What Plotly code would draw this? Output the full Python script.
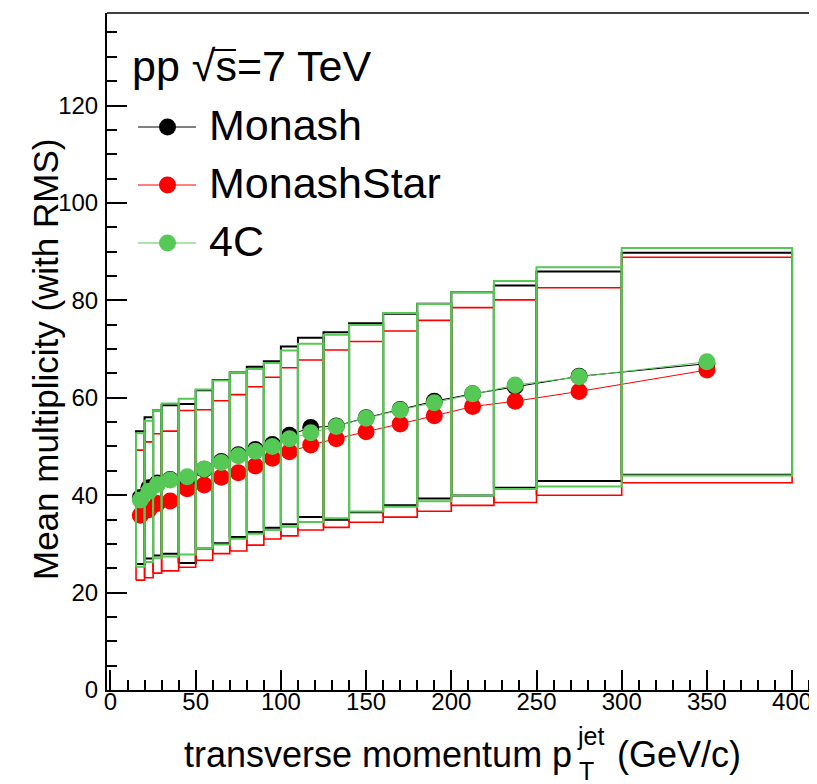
import plotly.graph_objects as go

# ---------------- data ----------------
pt_low = [15, 20, 25, 30, 40, 50, 60, 70, 80, 90, 100, 110, 125, 140, 160, 180, 200, 225, 250, 300]
pt_high = [20, 25, 30, 40, 50, 60, 70, 80, 90, 100, 110, 125, 140, 160, 180, 200, 225, 250, 300, 400]
pt_center = [17.5, 22.5, 27.5, 35, 45, 55, 65, 75, 85, 95, 105, 117.5, 132.5, 150, 170, 190, 212.5, 237.5, 275, 350]

monash_mean = [39.5, 41.5, 42.5, 43.2, 42.4, 45.3, 46.9, 48.3, 49.4, 50.4, 52.3, 53.9, 54.2, 55.9, 57.6, 59.3, 60.8, 62.3, 64.4, 67.0]
monash_rms = [13.65, 14.5, 14.9, 15.25, 16.3, 16.25, 16.75, 16.9, 16.95, 17.1, 18.25, 18.4, 19.25, 19.4, 19.65, 20.0, 20.85, 20.75, 21.5, 22.8]

star_mean = [35.9, 37.0, 38.3, 38.8, 41.3, 42.1, 43.7, 44.6, 46.0, 47.6, 48.9, 50.3, 51.6, 53.0, 54.6, 56.3, 58.2, 59.3, 61.3, 65.7]
star_rms = [13.35, 13.95, 14.3, 14.35, 16.1, 15.45, 15.7, 16.05, 16.25, 16.6, 17.25, 17.45, 18.2, 18.55, 19.1, 19.6, 20.3, 20.8, 21.3, 23.15]

c4_mean = [39.0, 40.8, 42.2, 43.1, 43.8, 45.4, 46.7, 48.1, 49.0, 50.0, 51.6, 52.8, 54.1, 55.8, 57.5, 59.0, 60.8, 62.6, 64.3, 67.4]
c4_rms = [13.7, 14.5, 15.15, 15.7, 16.0, 16.3, 16.85, 17.05, 16.9, 17.15, 18.1, 18.3, 18.85, 19.15, 19.9, 20.25, 20.85, 21.35, 22.5, 23.35]

series = [
    ("Monash", monash_mean, monash_rms, "#000000", 2.0),
    ("MonashStar", star_mean, star_rms, "#ff0000", 1.6),
    ("4C", c4_mean, c4_rms, "#55c855", 2.0),
]

x_ticks = [0, 50, 100, 150, 200, 250, 300, 350, 400]
y_ticks = [0, 20, 40, 60, 80, 100, 120]

# ---------------- figure ----------------
OFF = 8                      # page body margin of the html page
W, H = 817 - OFF, 784 - OFF
L, R, T, B = 107 - OFF, 0, 13 - OFF, 94
PW, PH = W - L - R, H - T - B
FONT = "Liberation Sans, Arial, Helvetica, sans-serif"


def px2x(px):                # page pixel -> paper
    return (px - OFF - L) / PW


def py2y(py):
    return (H - B - (py - OFF)) / PH


fig = go.Figure()

for name, mean, rms, color, lw in series:
    bx, by = [], []
    for lo, hi, m, r in zip(pt_low, pt_high, mean, rms):
        bx += [lo, hi, hi, lo, lo, None]
        by += [m - r, m - r, m + r, m + r, m - r, None]
    fig.add_trace(go.Scatter(x=bx, y=by, mode="lines",
                             line=dict(color=color, width=lw),
                             hoverinfo="skip", showlegend=False))
    fig.add_trace(go.Scatter(x=pt_center, y=mean, mode="lines+markers", name=name,
                             line=dict(color=color, width=1),
                             marker=dict(symbol="circle", size=17, color=color),
                             showlegend=False))

shapes = []
annotations = []

# top frame line
shapes.append(dict(type="line", xref="paper", yref="paper", x0=0, x1=1, y0=1, y1=1,
                   line=dict(color="black", width=1.5)))

# legend (manual, ROOT style)
annotations.append(dict(xref="paper", yref="paper", x=px2x(130), y=py2y(66),
                        xanchor="left", yanchor="middle", showarrow=False,
                        text="pp √s=7 TeV", font=dict(family=FONT, size=43, color="black")))
# overline of the square root (over the "s")
shapes.append(dict(type="line", xref="paper", yref="paper",
                   x0=px2x(212), x1=px2x(236), y0=py2y(50), y1=py2y(50),
                   line=dict(color="black", width=2)))
leg_y = [125, 183, 241]
for (name, mean, rms, color, lw), yy in zip(series, leg_y):
    shapes.append(dict(type="line", xref="paper", yref="paper",
                       x0=px2x(138), x1=px2x(196), y0=py2y(yy + 2), y1=py2y(yy + 2),
                       line=dict(color=color, width=1)))
    shapes.append(dict(type="circle", xref="paper", yref="paper",
                       x0=px2x(159), x1=px2x(176), y0=py2y(yy + 10.5), y1=py2y(yy - 6.5),
                       fillcolor=color, line=dict(color=color, width=0)))
    annotations.append(dict(xref="paper", yref="paper", x=px2x(207), y=py2y(yy),
                            xanchor="left", yanchor="middle", showarrow=False,
                            text=name, font=dict(family=FONT, size=43, color="black")))

# y title
annotations.append(dict(xref="paper", yref="paper", x=px2x(45), y=py2y(360),
                        xanchor="center", yanchor="middle", showarrow=False, textangle=-90,
                        text="Mean multiplicity (with RMS)",
                        font=dict(family=FONT, size=35, color="black")))
# x title pieces
annotations.append(dict(xref="paper", yref="paper", x=px2x(574), y=py2y(754),
                        xanchor="right", yanchor="middle", showarrow=False,
                        text="transverse momentum p", font=dict(family=FONT, size=36, color="black")))
annotations.append(dict(xref="paper", yref="paper", x=px2x(575), y=py2y(736),
                        xanchor="left", yanchor="middle", showarrow=False,
                        text="jet", font=dict(family=FONT, size=25, color="black")))
annotations.append(dict(xref="paper", yref="paper", x=px2x(577), y=py2y(771),
                        xanchor="left", yanchor="middle", showarrow=False,
                        text="T", font=dict(family=FONT, size=25, color="black")))
annotations.append(dict(xref="paper", yref="paper", x=px2x(615), y=py2y(754),
                        xanchor="left", yanchor="middle", showarrow=False,
                        text="(GeV/c)", font=dict(family=FONT, size=36, color="black")))

fig.update_layout(
    width=W, height=H,
    margin=dict(l=L, r=R, t=T, b=B, pad=0, autoexpand=False),
    paper_bgcolor="white", plot_bgcolor="white",
    showlegend=False,
    shapes=shapes, annotations=annotations,
    font=dict(family=FONT, color="black"),
)

fig.update_xaxes(range=[-2.05, 414.6], showgrid=False, zeroline=False,
                 showline=True, linecolor="black", linewidth=2,
                 ticks="inside", ticklen=20, tickwidth=1.5, tickcolor="black",
                 tickvals=x_ticks, ticktext=[str(v) for v in x_ticks],
                 ticklabelstandoff=-11,
                 minor=dict(dtick=10, tick0=0, ticks="inside", ticklen=10, tickwidth=1.5, tickcolor="black"),
                 tickfont=dict(family=FONT, size=24, color="black"))
fig.update_yaxes(range=[0, 139], showgrid=False, zeroline=False,
                 showline=True, linecolor="black", linewidth=2,
                 ticks="inside", ticklen=20, tickwidth=1.5, tickcolor="black",
                 tickvals=y_ticks, ticktext=[str(v) for v in y_ticks],
                 ticklabelstandoff=2,
                 minor=dict(dtick=5, tick0=0, ticks="inside", ticklen=10, tickwidth=1.5, tickcolor="black"),
                 tickfont=dict(family=FONT, size=24, color="black"))

fig.write_html("out.html")
